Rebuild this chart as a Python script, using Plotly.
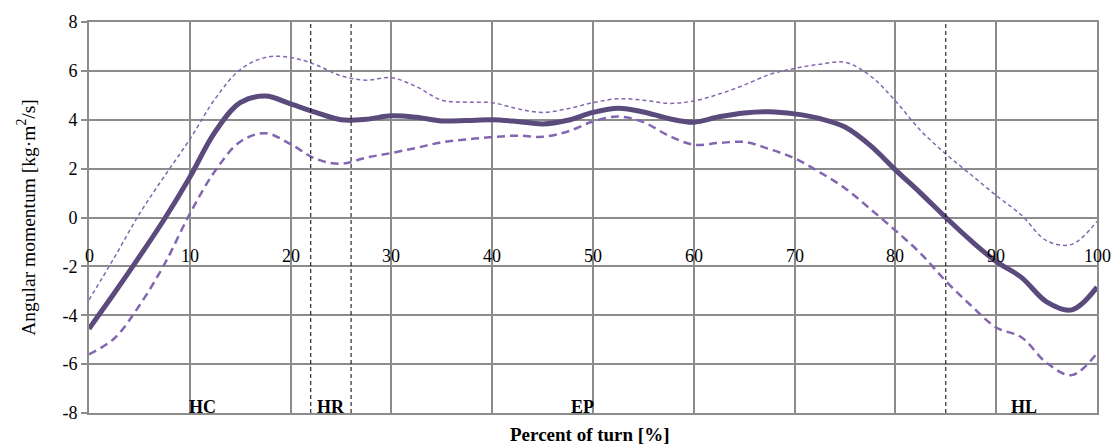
import plotly.graph_objects as go

x_pct = [0, 2.5, 5, 7.5, 10, 12.5, 15, 17.5, 20, 22.5, 25, 27.5, 30, 32.5, 35, 37.5, 40,
         42.5, 45, 47.5, 50, 52.5, 55, 57.5, 60, 62.5, 65, 67.5, 70, 72.5, 75, 77.5, 80,
         82.5, 85, 87.5, 90, 92.5, 95, 97.5, 100]

mean_vals = [-4.55, -3.1, -1.6, -0.05, 1.65, 3.5, 4.7, 4.97, 4.65, 4.3, 4.0, 4.02, 4.16, 4.1,
             3.95, 3.97, 4.0, 3.93, 3.83, 3.98, 4.3, 4.47, 4.32, 4.05, 3.9, 4.12, 4.28, 4.33,
             4.24, 4.05, 3.7, 2.95, 1.95, 1.0, 0.0, -0.95, -1.8, -2.45, -3.45, -3.78, -2.85]

upper_vals = [-3.37, -1.65, 0.15, 1.7, 3.2, 4.85, 6.05, 6.55, 6.55, 6.25, 5.8, 5.62, 5.72, 5.35,
              4.8, 4.72, 4.7, 4.45, 4.3, 4.45, 4.7, 4.86, 4.8, 4.67, 4.77, 5.05, 5.42, 5.85,
              6.1, 6.27, 6.35, 5.8, 4.77, 3.56, 2.6, 1.75, 0.9, 0.1, -0.95, -1.1, -0.15]

lower_vals = [-5.6, -4.95, -3.6, -1.9, 0.15, 1.9, 3.1, 3.45, 3.0, 2.4, 2.2, 2.45, 2.64, 2.85,
              3.08, 3.2, 3.29, 3.35, 3.3, 3.52, 3.93, 4.13, 3.9, 3.35, 2.98, 3.05, 3.09, 2.8,
              2.42, 1.85, 1.2, 0.35, -0.53, -1.47, -2.6, -3.6, -4.5, -4.9, -5.95, -6.45, -5.55]

phase_bounds = [22, 26, 85]
phase_labels = ["HC", "HR", "EP", "HL"]
phase_label_x = [11.3, 24, 49, 92.8]

x_ticks = [0, 10, 20, 30, 40, 50, 60, 70, 80, 90, 100]
y_ticks = [-8, -6, -4, -2, 0, 2, 4, 6, 8]

FONT = "Liberation Serif"
MEAN_COLOR = "#5b4a7c"
SD_COLOR = "#8466b0"
GRID = "#8c8c8c"

fig = go.Figure()

fig.add_trace(go.Scatter(x=x_pct, y=upper_vals, mode="lines",
                         line=dict(color=SD_COLOR, width=1.5, dash="4px,3px", shape="spline", smoothing=1),
                         showlegend=False))
fig.add_trace(go.Scatter(x=x_pct, y=lower_vals, mode="lines",
                         line=dict(color=SD_COLOR, width=2.5, dash="8px,5px", shape="spline", smoothing=1),
                         showlegend=False))
fig.add_trace(go.Scatter(x=x_pct, y=mean_vals, mode="lines",
                         line=dict(color=MEAN_COLOR, width=5, shape="spline", smoothing=1),
                         showlegend=False))

for xb in phase_bounds:
    fig.add_shape(type="line", x0=xb, x1=xb, y0=-8, y1=8, xref="x", yref="y",
                  line=dict(color="black", width=1, dash="4px,3px"), layer="above")

for lab, lx in zip(phase_labels, phase_label_x):
    fig.add_annotation(x=lx, y=-8, text="<b>" + lab + "</b>", showarrow=False,
                       xanchor="center", yanchor="bottom", yshift=-6,
                       font=dict(family=FONT, size=18, color="black"))

for t in x_ticks:
    fig.add_annotation(x=t, y=0, text=str(t), showarrow=False,
                       xanchor="center", yanchor="middle", yshift=-38,
                       font=dict(family=FONT, size=18, color="black"))

fig.add_annotation(x=0.497, y=0, xref="paper", yref="paper", text="<b>Percent of turn [%]</b>",
                   showarrow=False, xanchor="center", yanchor="top", yshift=-9,
                   font=dict(family=FONT, size=19, color="black"))

fig.update_xaxes(range=[0, 100], tickvals=x_ticks, showticklabels=False, showgrid=True,
                 gridcolor=GRID, gridwidth=1.8, zeroline=False, showline=True,
                 linecolor=GRID, linewidth=1.8, mirror=True, ticks="")
fig.update_yaxes(range=[-8, 8], tickvals=y_ticks, ticktext=[str(v) for v in y_ticks],
                 showgrid=True, gridcolor=GRID, gridwidth=1.8, zeroline=False,
                 showline=True, linecolor=GRID, linewidth=1.8, mirror=True,
                 ticks="outside", ticklen=6, tickcolor=GRID, tickwidth=1.8,
                 tickfont=dict(family=FONT, size=18, color="black"),
                 title=dict(text="Angular momentum [kg·m<sup>2</sup>/s]", standoff=22,
                            font=dict(family=FONT, size=19.5, color="black")))

fig.update_layout(width=1116, height=445, margin=dict(l=89, r=19, t=18, b=32),
                  paper_bgcolor="white", plot_bgcolor="white",
                  font=dict(family=FONT))

fig.write_html("out.html")
